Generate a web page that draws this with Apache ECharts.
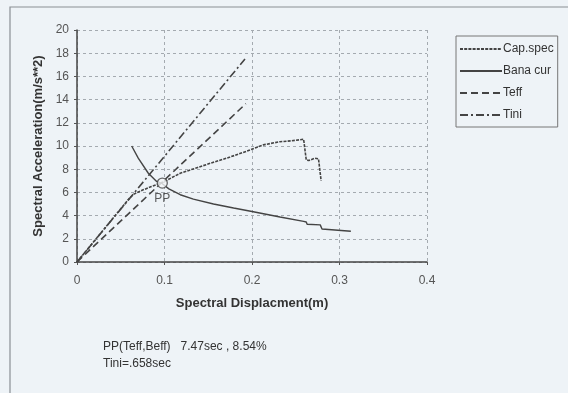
<!DOCTYPE html>
<html>
<head>
<meta charset="utf-8">
<script src="https://cdn.jsdelivr.net/npm/echarts@6/dist/echarts.min.js"></script>
<style>
  html, body { margin: 0; padding: 0; background: #eef3f7; }
  #chart { width: 568px; height: 393px; }
</style>
</head>
<body>
<div id="chart"></div>
<script>
// Capacity spectrum (Sd [m], Sa [m/s^2])
const capSpecSd = [0, 0.0300, 0.0600, 0.0650, 0.0750, 0.0850, 0.0975, 0.1180, 0.1380, 0.1560, 0.1750, 0.1940, 0.2130, 0.2320, 0.2450, 0.2590, 0.2610, 0.2620, 0.2650, 0.2720, 0.2760, 0.2790];
const capSpecSa = [0, 2.75, 5.50, 5.85, 6.20, 6.50, 6.85, 7.65, 8.15, 8.60, 9.05, 9.55, 10.10, 10.37, 10.45, 10.58, 10.55, 8.80, 8.75, 8.95, 8.90, 7.00];

// Demand curve
const banaSd = [0.0625, 0.0700, 0.0815, 0.0910, 0.0975, 0.1050, 0.1180, 0.1330, 0.1560, 0.1790, 0.2000, 0.2320, 0.2590, 0.2620, 0.2630, 0.2780, 0.2800, 0.3130];
const banaSa = [10.00, 8.95, 7.65, 6.95, 6.75, 6.30, 5.80, 5.42, 5.00, 4.65, 4.35, 3.88, 3.50, 3.45, 3.25, 3.20, 2.85, 2.65];

// Effective and initial period lines (from origin)
const teffSd = [0, 0.193];
const teffSa = [0, 13.65];
const tiniSd = [0, 0.192];
const tiniSa = [0, 17.50];

// Performance point
const ppSd = [0.0975];
const ppSa = [6.80];

const xTicks = { min: 0, max: 0.4, interval: 0.1 };
const yTicks = { min: 0, max: 20, interval: 2 };

const legendNames = ['Cap.spec', 'Bana cur', 'Teff', 'Tini'];
const noteLine1 = 'PP(Teff,Beff)   7.47sec , 8.54%';
const noteLine2 = 'Tini=.658sec';

const zip = (xs, ys) => xs.map((x, i) => [x, ys[i]]);
const FONT = '"Liberation Sans", Arial, sans-serif';
const INK = '#333';
const LINE = '#444';

const chart = echarts.init(document.getElementById('chart'), null, { renderer: 'canvas' });

chart.setOption({
  backgroundColor: '#eef3f7',
  animation: false,
  textStyle: { fontFamily: FONT },
  grid: { left: 77, right: 141, top: 30, bottom: 131, containLabel: false },
  legend: {
    data: legendNames,
    orient: 'vertical',
    left: 456, top: 36,
    width: 107,
    padding: [7, 4, 6, 3],
    itemGap: 10,
    itemWidth: 42,
    itemHeight: 14,
    borderColor: '#777',
    borderWidth: 1,
    itemStyle: { opacity: 0 },
    textStyle: { fontFamily: FONT, fontSize: 12, color: INK, padding: [0, 0, 0, -4] },
    selectedMode: false
  },
  xAxis: {
    type: 'value',
    min: xTicks.min, max: xTicks.max, interval: xTicks.interval,
    name: 'Spectral Displacment(m)',
    nameLocation: 'middle',
    nameGap: 35,
    nameTextStyle: { fontFamily: FONT, fontSize: 13, fontWeight: 'bold', color: INK },
    axisLine: { lineStyle: { color: '#444', width: 1.5 } },
    axisTick: { show: true, inside: false, length: 3, lineStyle: { color: '#555' } },
    axisLabel: { fontFamily: FONT, fontSize: 12, color: '#555', margin: 13,
      formatter: v => (v === 0 ? '0' : String(+v.toFixed(1))) },
    splitLine: { show: true, lineStyle: { color: '#a4aab0', type: [3, 3], width: 1 } }
  },
  yAxis: {
    type: 'value',
    min: yTicks.min, max: yTicks.max, interval: yTicks.interval,
    name: 'Spectral Acceleration(m/s**2)',
    nameLocation: 'middle',
    nameGap: 23,
    nameTextStyle: { fontFamily: FONT, fontSize: 13, fontWeight: 'bold', color: INK },
    axisLine: { show: true, lineStyle: { color: '#444', width: 1.5 } },
    axisTick: { show: true, inside: false, length: 3, lineStyle: { color: '#555' } },
    axisLabel: { fontFamily: FONT, fontSize: 12, color: '#555', margin: 8 },
    splitLine: { show: true, lineStyle: { color: '#a4aab0', type: [3, 3], width: 1 } }
  },
  series: [
    {
      name: 'Cap.spec', type: 'line', symbol: 'none', smooth: false,
      data: zip(capSpecSd, capSpecSa),
      lineStyle: { color: LINE, width: 1.6, type: [3, 1.2] },
      itemStyle: { color: LINE }
    },
    {
      name: 'Bana cur', type: 'line', symbol: 'none',
      data: zip(banaSd, banaSa),
      lineStyle: { color: LINE, width: 1.4, type: 'solid' },
      itemStyle: { color: LINE }
    },
    {
      name: 'Teff', type: 'line', symbol: 'none',
      data: zip(teffSd, teffSa),
      lineStyle: { color: LINE, width: 1.6, type: [7, 4] },
      itemStyle: { color: LINE }
    },
    {
      name: 'Tini', type: 'line', symbol: 'none',
      data: zip(tiniSd, tiniSa),
      lineStyle: { color: LINE, width: 1.6, type: [8, 3, 2, 3] },
      itemStyle: { color: LINE }
    },
    {
      name: 'PP', type: 'scatter',
      data: zip(ppSd, ppSa),
      symbol: 'circle', symbolSize: 10,
      itemStyle: { color: '#f4f6f8', borderColor: '#444', borderWidth: 1.3 },
      label: { show: true, position: 'bottom', distance: 4, formatter: 'PP',
        fontFamily: FONT, fontSize: 12, color: INK },
      z: 5
    }
  ],
  graphic: [
    // outer frame of the chart area
    { type: 'polyline', silent: true,
      shape: { points: [[10, 400], [10, 7], [575, 7]] },
      style: { stroke: '#8a8f94', lineWidth: 1.2, fill: null } },
    { type: 'text', left: 103, top: 341,
      style: { text: noteLine1, font: '12px ' + FONT, fill: INK } },
    { type: 'text', left: 103, top: 358,
      style: { text: noteLine2, font: '12px ' + FONT, fill: INK } }
  ]
});
</script>
</body>
</html>
